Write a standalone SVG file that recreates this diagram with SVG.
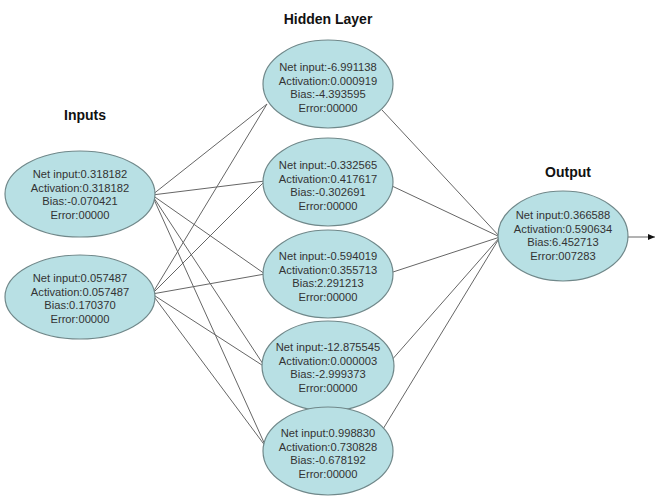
<svg xmlns="http://www.w3.org/2000/svg" width="661" height="498" viewBox="0 0 661 498">
<style>
.node ellipse{fill:#b8e0e4;stroke:#70888a;stroke-width:1.2}
.node text{font-family:"Liberation Sans",Arial,sans-serif;font-size:11.2px;fill:#333;text-anchor:middle}
.title{font-family:"Liberation Sans",Arial,sans-serif;font-size:14px;font-weight:bold;fill:#111;text-anchor:middle}
#edges line{stroke:#666;stroke-width:1}
</style>
<defs>
<marker id="arr" markerWidth="8" markerHeight="8" refX="7" refY="4" orient="auto" markerUnits="userSpaceOnUse">
<path d="M0,1 L7,4 L0,7 Z" fill="#111"/>
</marker>
</defs>
<rect width="661" height="498" fill="#fff"/>
<text class="title" x="328" y="24">Hidden Layer</text>
<text class="title" x="85" y="120">Inputs</text>
<text class="title" x="568" y="177">Output</text>
<g id="edges">
<line x1="152" y1="195" x2="267" y2="104"/>
<line x1="152" y1="195" x2="265" y2="181"/>
<line x1="152" y1="195" x2="265" y2="274"/>
<line x1="152" y1="195" x2="265" y2="367"/>
<line x1="152" y1="195" x2="266" y2="447"/>
<line x1="152" y1="294" x2="267" y2="104"/>
<line x1="152" y1="294" x2="265" y2="181"/>
<line x1="152" y1="294" x2="265" y2="274"/>
<line x1="152" y1="294" x2="265" y2="367"/>
<line x1="152" y1="294" x2="266" y2="447"/>
<line x1="382" y1="110" x2="500" y2="237"/>
<line x1="392" y1="186" x2="500" y2="237"/>
<line x1="393" y1="272" x2="500" y2="237"/>
<line x1="390" y1="362" x2="500" y2="237"/>
<line x1="380" y1="434" x2="500" y2="237"/>
<line x1="628" y1="237" x2="655" y2="237" marker-end="url(#arr)"/>
</g>
<g id="in1" class="node">
<ellipse cx="80" cy="194" rx="75" ry="43"/>
<text x="80" y="178">Net input:0.318182</text>
<text x="80" y="191.5">Activation:0.318182</text>
<text x="80" y="205">Bias:-0.070421</text>
<text x="80" y="218.5">Error:00000</text>
</g>
<g id="in2" class="node">
<ellipse cx="80" cy="297" rx="75" ry="42"/>
<text x="80" y="282">Net input:0.057487</text>
<text x="80" y="295.5">Activation:0.057487</text>
<text x="80" y="309">Bias:0.170370</text>
<text x="80" y="322.5">Error:00000</text>
</g>
<g id="h1" class="node">
<ellipse cx="328" cy="84" rx="65" ry="44"/>
<text x="328" y="71">Net input:-6.991138</text>
<text x="328" y="84.5">Activation:0.000919</text>
<text x="328" y="98">Bias:-4.393595</text>
<text x="328" y="111.5">Error:00000</text>
</g>
<g id="h2" class="node">
<ellipse cx="328" cy="182" rx="65" ry="44"/>
<text x="328" y="169">Net input:-0.332565</text>
<text x="328" y="182.5">Activation:0.417617</text>
<text x="328" y="196">Bias:-0.302691</text>
<text x="328" y="209.5">Error:00000</text>
</g>
<g id="h3" class="node">
<ellipse cx="328" cy="274" rx="65" ry="44"/>
<text x="328" y="260">Net input:-0.594019</text>
<text x="328" y="273.5">Activation:0.355713</text>
<text x="328" y="287">Bias:2.291213</text>
<text x="328" y="300.5">Error:00000</text>
</g>
<g id="h4" class="node">
<ellipse cx="328" cy="366" rx="66" ry="45"/>
<text x="328" y="351">Net input:-12.875545</text>
<text x="328" y="364.5">Activation:0.000003</text>
<text x="328" y="378">Bias:-2.999373</text>
<text x="328" y="391.5">Error:00000</text>
</g>
<g id="h5" class="node">
<ellipse cx="328" cy="451" rx="65" ry="44"/>
<text x="328" y="437">Net input:0.998830</text>
<text x="328" y="450.5">Activation:0.730828</text>
<text x="328" y="464">Bias:-0.678192</text>
<text x="328" y="477.5">Error:00000</text>
</g>
<g id="out" class="node">
<ellipse cx="563" cy="236" rx="65" ry="45"/>
<text x="563" y="219">Net input:0.366588</text>
<text x="563" y="232.5">Activation:0.590634</text>
<text x="563" y="246">Bias:6.452713</text>
<text x="563" y="259.5">Error:007283</text>
</g>
</svg>
